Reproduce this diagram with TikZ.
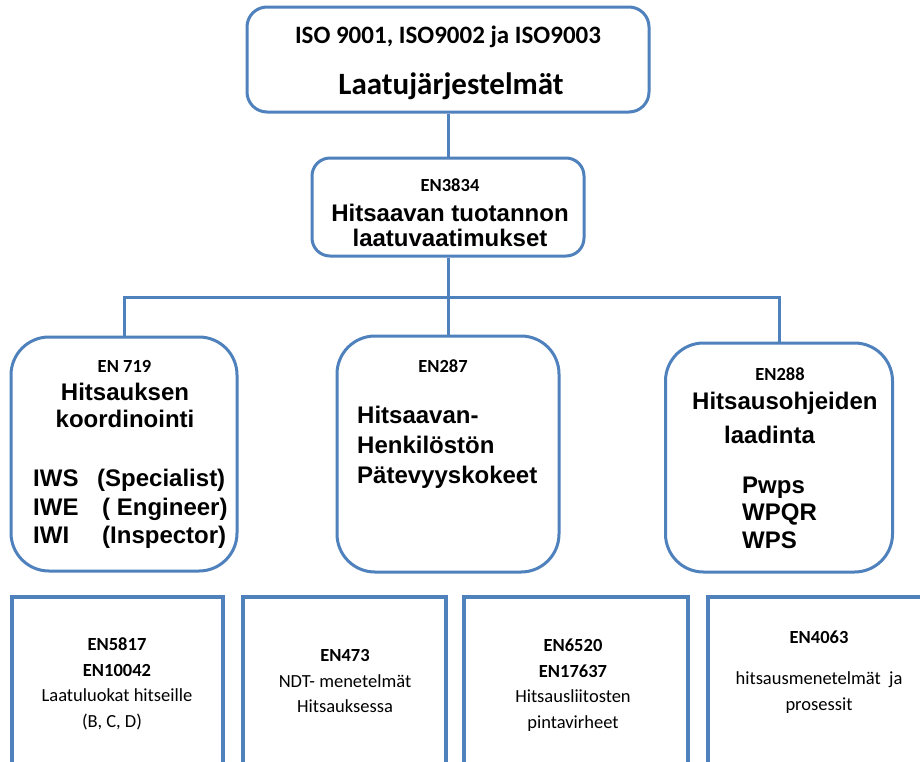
\documentclass[tikz,border=0pt]{standalone}
\usepackage{fontspec}
\setmainfont{Carlito}
\newfontfamily\arialf{Liberation Sans}
\definecolor{ob}{HTML}{4F81BD}
\tikzset{
  rbox/.style={draw=ob, line width=3pt, rounded corners=#1, inner sep=0pt, fill=white},
  sqbox/.style={draw=ob, line width=3.5pt, inner sep=0pt, fill=white},
  link/.style={draw=ob, line width=3pt},
  txt/.style={inner sep=0pt, text=black, align=center},
  ltxt/.style={inner sep=0pt, text=black, align=left, anchor=west},
  btxt/.style={inner sep=0pt, text=black, anchor=base west},
  cal/.style={font=\fontsize{18.5}{25.5}\selectfont},
  calb/.style={font=\fontsize{18.5}{25.5}\selectfont\bfseries},
  big/.style={font=\fontsize{24}{27}\selectfont\arialf\bfseries},
}
\begin{document}
\begin{tikzpicture}[x=1pt,y=-1pt]
\useasboundingbox (0,0) rectangle (920,761);
\clip (0,0) rectangle (920,761);
\fill[white] (0,0) rectangle (920,761);

% boxes
\node[rbox=20pt, minimum width=402pt, minimum height=105pt] (top) at (448,59.5) {};
\node[rbox=18pt, minimum width=272pt, minimum height=98pt] (mid) at (448,207) {};
\node[rbox=38pt, minimum width=226pt, minimum height=234pt] (b1) at (124,454) {};
\node[rbox=38pt, minimum width=222pt, minimum height=236pt] (b2) at (448,454) {};
\node[rbox=38pt, minimum width=227pt, minimum height=229pt] (b3) at (779,457.5) {};

\node[sqbox, minimum width=211pt, minimum height=183pt] (s1) at (117.5,688.5) {};
\node[sqbox, minimum width=203pt, minimum height=183pt] (s2) at (344.5,688.5) {};
\node[sqbox, minimum width=224pt, minimum height=183pt] (s3) at (576,688.5) {};
\node[sqbox, minimum width=227pt, minimum height=183pt] (s4) at (821.5,688.5) {};

% connectors
\coordinate (bus) at (448,297);
\draw[link] (top.south) -- (mid.north);
\draw[link] (mid.south) -- (b2.north);
\draw[link] (b1.north) -- (b1.north |- bus) -- (b3.north |- bus) -- (b3.north);

% top texts
\node[txt, font=\fontsize{25}{30}\selectfont\bfseries] (t1) at (448,37) {ISO 9001, ISO9002 ja ISO9003};
\node[txt, font=\fontsize{31}{36}\selectfont\bfseries] (t2) at (451,86) {Laatujärjestelmät};

% mid texts
\node[txt, calb] (m1) at (450,185) {EN3834};
\node[txt, font=\fontsize{24}{25}\selectfont\arialf\bfseries] (m2) at (450,225) {Hitsaavan tuotannon\\laatuvaatimukset};

% left box
\node[txt, calb] (l1) at (124.5,366) {EN 719};
\node[txt, big] (l2) at (125,405.5) {Hitsauksen\\koordinointi};
\node[btxt, big] (l3) at (33,486) {IWS};
\node[btxt, big] (l4) at (33,515) {IWE};
\node[btxt, big] (l5) at (33,543) {IWI};
\node[btxt, big] (l6) at (97,486) {(Specialist)};
\node[btxt, big] (l7) at (102,515) {( Engineer)};
\node[btxt, big] (l8) at (102,543) {(Inspector)};

% middle box
\node[txt, calb] (c1) at (443,366) {EN287};
\node[ltxt, font=\fontsize{24}{30}\selectfont\arialf\bfseries] (c2) at (357,447) {Hitsaavan-\\Henkilöstön\\Pätevyyskokeet};

% right box
\node[txt, calb] (r1) at (780,374) {EN288};
\node[ltxt, big] (r2) at (692,403) {Hitsausohjeiden};
\node[ltxt, big] (r3) at (724,435) {laadinta};
\node[ltxt, font=\fontsize{24}{27.5}\selectfont\arialf\bfseries] (r4) at (742,512.5) {Pwps\\WPQR\\WPS};

% bottom boxes
\node[txt, cal] (u1) at (117,684) {\textbf{EN5817}\\\textbf{EN10042}\\Laatuluokat\ hitseille\\(B, C, D)\hspace*{10pt}};
\node[txt, cal] (u2) at (345,681) {\textbf{EN473}\\NDT- menetelmät\\Hitsauksessa};
\node[txt, cal] (u3) at (573,685) {\textbf{EN6520}\\\textbf{EN17637}\\Hitsausliitosten\\pintavirheet};
\node[txt, cal] (u4) at (819,672) {\textbf{EN4063}\\[16pt]hitsausmenetelmät\ \ ja\\prosessit};
\end{tikzpicture}
\end{document}
